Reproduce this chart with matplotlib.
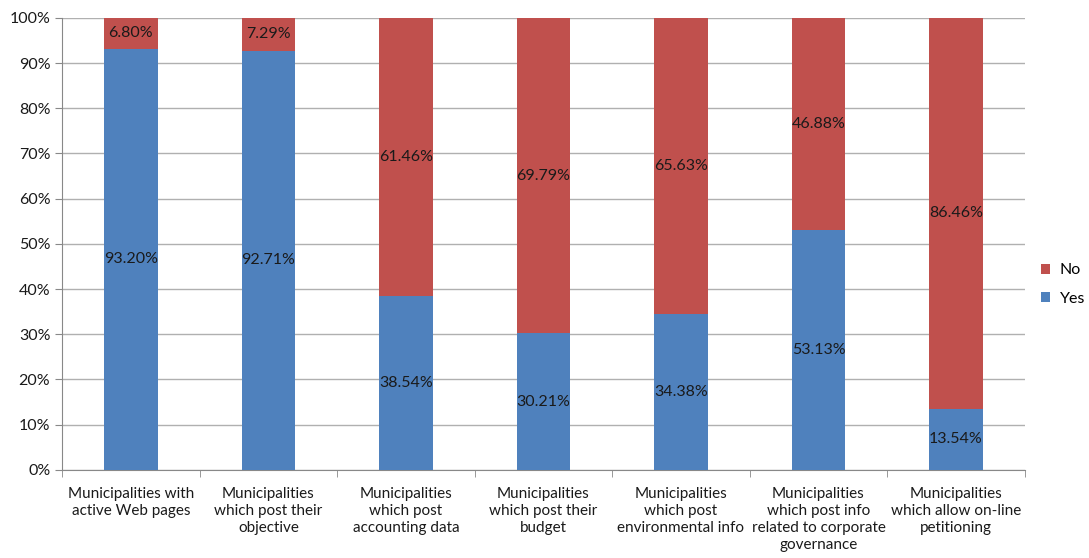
import numpy as np
import matplotlib.pyplot as plt
from matplotlib.ticker import FuncFormatter, MultipleLocator

categories = [
    "Municipalities with\nactive Web pages",
    "Municipalities\nwhich post their\nobjective",
    "Municipalities\nwhich post\naccounting data",
    "Municipalities\nwhich post their\nbudget",
    "Municipalities\nwhich post\nenvironmental info",
    "Municipalities\nwhich post info\nrelated to corporate\ngovernance",
    "Municipalities\nwhich allow on-line\npetitioning",
]
yes_vals = [93.20, 92.71, 38.54, 30.21, 34.38, 53.13, 13.54]
no_vals = [6.80, 7.29, 61.46, 69.79, 65.63, 46.88, 86.46]

plt.rcParams["font.family"] = ["Lato", "DejaVu Sans"]

fig = plt.figure(figsize=(10.89, 5.58), dpi=100)
ax = fig.add_axes([0.057, 0.158, 0.884, 0.810])

x = np.arange(len(categories))
w = 0.39
blue = "#4F81BD"
red = "#C0504D"
ax.bar(x, yes_vals, w, color=blue, label="Yes", zorder=3)
ax.bar(x, no_vals, w, bottom=yes_vals, color=red, label="No", zorder=3)

fs = 11.5
for i in range(len(x)):
    ax.text(x[i], yes_vals[i] / 2, f"{yes_vals[i]:.2f}%", ha="center", va="center",
            fontsize=fs, color="#1a1a1a", zorder=4)
    ax.text(x[i], yes_vals[i] + no_vals[i] / 2, f"{no_vals[i]:.2f}%", ha="center", va="center",
            fontsize=fs, color="#1a1a1a", zorder=4)

ax.set_xlim(-0.5, len(x) - 0.5)
ax.set_ylim(0, 100)
ax.yaxis.set_major_locator(MultipleLocator(10))
ax.yaxis.set_major_formatter(FuncFormatter(lambda v, p: f"{v:.0f}%"))
ax.grid(axis="y", color="#b0b0b0", linewidth=1, zorder=0)

ax.set_xticks(x)
ax.set_xticklabels(categories, fontsize=11, color="#1a1a1a", linespacing=1.3)
ax.set_xticks(np.arange(-0.5, len(x) + 0.5, 1), minor=True)
ax.tick_params(axis="x", which="major", length=0, pad=12)
ax.tick_params(axis="x", which="minor", length=5, color="#888888")
ax.tick_params(axis="y", length=5, color="#888888", labelsize=fs, labelcolor="#1a1a1a")

for s in ["top", "right"]:
    ax.spines[s].set_visible(False)
ax.spines["left"].set_color("#888888")
ax.spines["bottom"].set_color("#888888")

handles, labels = ax.get_legend_handles_labels()
ax.legend(handles[::-1], labels[::-1], loc="center left", bbox_to_anchor=(1.0, 0.41),
          frameon=False, fontsize=fs, handlelength=0.6, handleheight=0.6,
          handletextpad=0.6, labelspacing=0.9, borderaxespad=0.6)

fig.savefig("out.png", dpi=100)
